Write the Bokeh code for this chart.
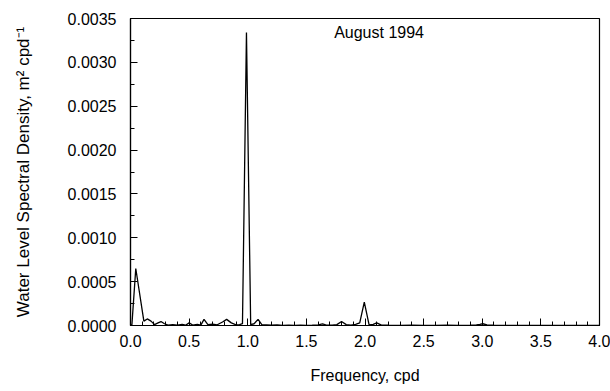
from bokeh.plotting import figure
from bokeh.models import ColumnDataSource, PrintfTickFormatter, FixedTicker, Range1d
from bokeh.core.properties import value
from bokeh.embed import file_html
from bokeh.resources import INLINE

# Frequency (cpd) and spectral density (m^2 cpd^-1)
freq = [0.0, 0.012, 0.045, 0.114, 0.143, 0.175, 0.205, 0.235, 0.26, 0.29, 0.32,
        0.36, 0.40, 0.44, 0.47, 0.50, 0.53, 0.57, 0.60, 0.627, 0.66, 0.70, 0.74,
        0.785, 0.82, 0.86, 0.90, 0.93, 0.955, 0.989, 1.025, 1.054, 1.088, 1.12,
        1.16, 1.20, 1.25, 1.30, 1.35, 1.40, 1.45, 1.50, 1.55, 1.60, 1.638, 1.67,
        1.72, 1.76, 1.80, 1.84, 1.88, 1.92, 1.955, 1.994, 2.035, 2.07, 2.10, 2.14,
        2.20, 2.30, 2.40, 2.50, 2.60, 2.70, 2.80, 2.90, 2.95, 2.98, 3.005, 3.04,
        3.10, 3.20, 3.30, 3.40, 3.50, 3.60, 3.70, 3.80, 3.90, 4.0]
density = [0.0, 0.00001, 0.00065, 0.00005, 0.000075, 0.00005, 0.00001, 0.00003,
           0.000045, 0.00002, 0.000005, 0.00001, 0.000005, 0.000012, 0.000003,
           0.00003, 0.000005, 0.000012, 0.000005, 0.00007, 0.00001, 0.000015,
           0.000008, 0.00004, 0.00007, 0.00003, 0.000008, 0.00001, 0.00002,
           0.00334, 0.00001, 0.00002, 0.00007, 0.00001, 0.000008, 0.000003,
           0.000006, 0.000002, 0.000004, 0.000002, 0.000003, 0.000002, 0.000004,
           0.000008, 0.000018, 0.000005, 0.000004, 0.00001, 0.000045, 0.00001,
           0.000005, 0.000012, 0.00003, 0.000266, 0.000008, 0.000012, 0.00003,
           0.000004, 0.000003, 0.000002, 0.000003, 0.000002, 0.000002, 0.000003,
           0.000002, 0.000004, 0.000008, 0.000012, 0.00002, 0.000008, 0.000003,
           0.000002, 0.000001, 0.000002, 0.000001, 0.000001, 0.000002, 0.000001,
           0.000001, 0.000001]

x_ticks = [0.0, 0.5, 1.0, 1.5, 2.0, 2.5, 3.0, 3.5, 4.0]
x_minor = [i / 10 for i in range(0, 41)]
y_ticks = [0.0, 0.0005, 0.0010, 0.0015, 0.0020, 0.0025, 0.0030, 0.0035]
y_minor = [i * 0.00025 for i in range(0, 15)]

title_text = "August 1994"
x_label = "Frequency, cpd"
y_label = "Water Level Spectral Density, m² cpd⁻¹"

FONT = "Liberation Sans"

p = figure(width=610, height=391, output_backend="svg", toolbar_location=None,
           x_range=Range1d(0, 4.0), y_range=Range1d(0, 0.0035))
p.min_border_left = 130
p.min_border_right = 11
p.min_border_top = 18
p.min_border_bottom = 66

p.background_fill_color = "white"
p.border_fill_color = "white"
p.outline_line_color = "black"
p.outline_line_width = 1.2
p.xgrid.visible = False
p.ygrid.visible = False

src = ColumnDataSource(dict(f=freq, d=density))
p.line("f", "d", source=src, line_color="black", line_width=1.3)

p.text(x=[2.12], y=[0.00334], text=[title_text], text_font=value(FONT),
       text_font_size="16px", text_align="center", text_baseline="middle",
       text_color="black")

p.xaxis.ticker = FixedTicker(ticks=x_ticks, minor_ticks=x_minor)
p.yaxis.ticker = FixedTicker(ticks=y_ticks, minor_ticks=y_minor)
p.xaxis.formatter = PrintfTickFormatter(format="%.1f")
p.yaxis.formatter = PrintfTickFormatter(format="%.4f")

for ax in (p.xaxis[0], p.yaxis[0]):
    ax.axis_line_color = "black"
    ax.axis_line_width = 1.2
    ax.major_tick_in = 7
    ax.major_tick_out = 0
    ax.minor_tick_in = 4
    ax.minor_tick_out = 0
    ax.major_tick_line_color = "black"
    ax.minor_tick_line_color = "black"
    ax.major_label_text_font = FONT
    ax.major_label_text_font_size = "16px"
    ax.major_label_text_color = "black"
    ax.axis_label_text_font = FONT
    ax.axis_label_text_font_size = "16px"
    ax.axis_label_text_font_style = "normal"
    ax.axis_label_text_color = "black"

p.yaxis.axis_label_text_font_size = "17px"
p.xaxis.axis_label = x_label
p.yaxis.axis_label = y_label
p.xaxis.major_label_standoff = 9
p.xaxis.axis_label_standoff = 17
p.yaxis.major_label_standoff = 14
p.yaxis.axis_label_standoff = 32

open("out.html", "w").write(file_html(p, INLINE))
